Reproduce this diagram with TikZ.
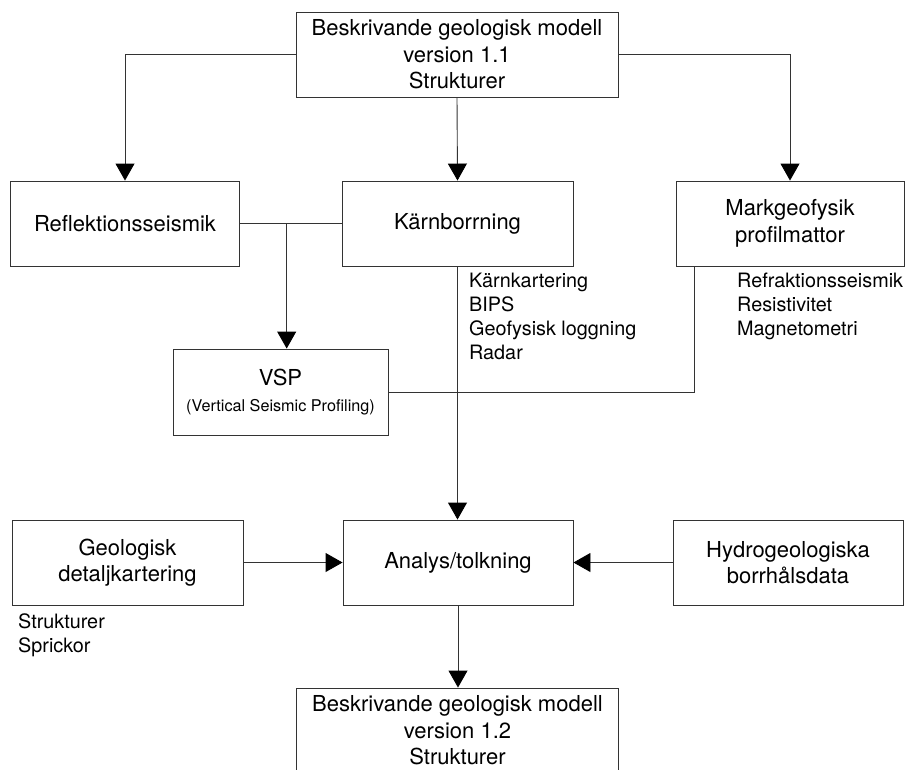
\documentclass[tikz,border=0pt]{standalone}
\usepackage{fontspec}
\setmainfont{TeX Gyre Heros}
\usetikzlibrary{arrows.meta,calc}

\newcommand{\bigtext}{\fontsize{22}{26.5}\selectfont}
\newcommand{\notetext}{\fontsize{19.8}{24}\selectfont}
\newcommand{\subtext}{\fontsize{16.2}{20}\selectfont}

\tikzset{
  box/.style={draw=black!80, line width=0.9pt, rectangle, inner sep=0pt,
              align=center, font=\bigtext, fill=white},
  wide/.style={box, minimum width=322pt, minimum height=85pt},
  std/.style={box, minimum width=230pt, minimum height=85pt},
  link/.style={draw=black!80, line width=0.9pt},
  arr/.style={link, -{Triangle[length=17pt,width=19pt,black]}},
  notes/.style={align=left, font=\notetext, inner sep=0pt, anchor=north west}
}

\begin{document}
\begin{tikzpicture}[x=1pt, y=-1pt]
  \path[use as bounding box, clip] (0,0) rectangle (905,769);

  % boxes
  \node[wide] (top)    at (457, 54.5)  {Beskrivande geologisk modell\\version 1.1\\Strukturer};
  \node[std, minimum width=229pt] (refl) at (125, 223.5) {Reflektionsseismik};
  \node[std, minimum width=231pt] (karn) at (457.5, 223.5) {Kärnborrning};
  \node[std, minimum width=228pt] (mark) at (790, 223.5) {Markgeofysik\\profilmattor};
  \node[box, minimum width=215pt, minimum height=86pt] (vsp) at (280.5, 392)
       {VSP\\[0pt]{\subtext (Vertical Seismic Profiling)}};
  \node[std, minimum width=231pt] (geo)    at (127.5, 562.5) {Geologisk\\detaljkartering};
  \node[std, minimum width=230pt] (analys) at (458, 562.5)   {Analys/tolkning};
  \node[std, minimum width=230pt] (hydro)  at (788, 562.5)   {Hydrogeologiska\\borrhålsdata};
  \node[wide] (bottom) at (457.5, 730.5) {Beskrivande geologisk modell\\version 1.2\\Strukturer};

  % notes beside the boxes
  \node[notes] (karnnotes) at (469, 273) {Kärnkartering\\BIPS\\Geofysisk loggning\\Radar};
  \node[notes] (marknotes) at (737, 273) {Refraktionsseismik\\Resistivitet\\Magnetometri};
  \node[notes] (geonotes)  at (18, 613)  {Strukturer\\Sprickor};

  % connectors
  \draw[arr] (top.west) -| (refl.north);
  \draw[arr] (top.east) -| (mark.north);
  \draw[arr] (top.south) -- (karn.north);
  \draw[link] (refl.east) -- (karn.west);
  \coordinate (br) at ($(refl.east)!0.46!(karn.west)$);
  \draw[arr] (br) -- (br |- vsp.north);
  \draw[link] ($(mark.south west)+(19,0)$) |- (vsp.east);
  \draw[arr] (karn.south) -- (karn.south |- analys.north);
  \draw[arr] (geo.east) -- (analys.west);
  \draw[arr] (hydro.west) -- (analys.east);
  \draw[arr] (analys.south) -- (analys.south |- bottom.north);
\end{tikzpicture}
\end{document}
